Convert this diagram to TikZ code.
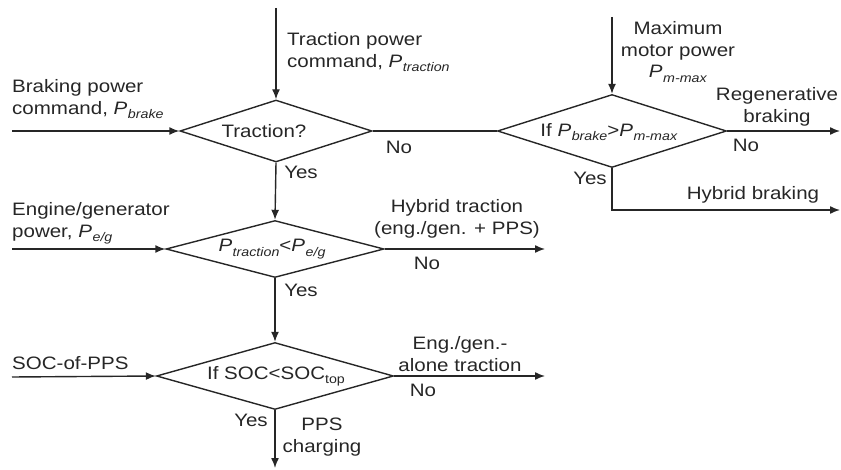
\documentclass[tikz,border=0pt]{standalone}
\usepackage{fontspec}
\setmainfont{Liberation Sans}[FakeStretch=1.14]
\usetikzlibrary{shapes.geometric,arrows.meta}
\newcommand{\Psub}[1]{\textit{P}\kern0.03em\raisebox{-0.45ex}{\fontsize{12.5}{12.5}\selectfont\textit{#1}}}
\newcommand{\Tsub}[1]{\raisebox{-0.45ex}{\fontsize{12.5}{12.5}\selectfont #1}}
\begin{document}
\begin{tikzpicture}[x=1pt,y=-1pt,
  font=\fontsize{18}{22}\selectfont,
  dia/.style={draw=black!85, diamond, inner sep=0pt, line width=1.4pt},
  arr/.style={draw=black!85, line width=1.4pt, -{Latex[length=10pt,width=8pt]}},
  ln/.style={draw=black!85, line width=1.4pt},
  txt/.style={inner sep=0pt, text=black!85, align=center},
  ltxt/.style={inner sep=0pt, text=black!85, align=left, anchor=west}]
\useasboundingbox (0,0) rectangle (841,470);

% diamonds
\node[dia, minimum width=192pt, minimum height=62pt] (d1) at (276,131) {};
\node[dia, minimum width=229pt, minimum height=73pt] (d2) at (612,131) {};
\node[dia, minimum width=218pt, minimum height=57pt] (d3) at (275,249) {};
\node[dia, minimum width=237pt, minimum height=67pt] (d4) at (275,376) {};

\node[txt] (t1) at (264,131) {Traction?};
\node[txt] (t2) at (609,132) {If \Psub{brake}>\Psub{m-max}};
\node[txt] (t3) at (272,249) {\Psub{traction}<\Psub{e/g}};
\node[txt] (t4) at (276,376) {If SOC<SOC\Tsub{top}};

% free ends
\coordinate (in1) at (276,8);
\coordinate (in2) at (612,17);
\coordinate (inb) at (12,131);
\coordinate (ine) at (12,249);
\coordinate (ins) at (12,377);
\coordinate (oregen) at (840,131);
\coordinate (bend) at (612,210);
\coordinate (ohb) at (840,210);
\coordinate (oht) at (545,249);
\coordinate (oea) at (545,376);
\coordinate (opc) at (275,468);

% connectors
\draw[arr] (in1) -- (d1.north);
\draw[arr] (inb) -- (d1.west);
\draw[ln] (d1.east) -- (d2.west);
\draw[arr] (in2) -- (d2.north);
\draw[arr] (d2.east) -- (oregen);
\draw[arr] (d2.south) -- (bend) -- (ohb);
\draw[arr] (d1.south) -- (d3.north);
\draw[arr] (ine) -- (d3.west);
\draw[arr] (d3.east) -- (oht);
\draw[arr] (d3.south) -- (d4.north);
\draw[arr] (ins) -- (d4.west);
\draw[arr] (d4.east) -- (oea);
\draw[arr] (d4.south) -- (opc);

% labels
\node[ltxt] (lt) at (287,52) {Traction power\\command, \Psub{traction}};
\node[ltxt] (lb) at (12,99) {Braking power\\command, \Psub{brake}};
\node[txt] (no1) at (399,147) {No};
\node[txt] (yes1) at (301,172) {Yes};
\node[txt] (lm) at (678,52) {Maximum\\motor power\\[-1pt]\Psub{m-max}};
\node[txt] (lr) at (777,107) {Regenerative\\braking};
\node[txt] (no2) at (746,145) {No};
\node[txt] (yes2) at (590,178) {Yes};
\node[txt] (lhb) at (753,195) {Hybrid braking};
\node[ltxt] (le) at (12,223) {Engine/generator\\power, \Psub{e/g}};
\node[txt] (lht) at (457,219) {Hybrid traction\\(eng./gen. + PPS)};
\node[txt] (no3) at (427,263) {No};
\node[txt] (yes3) at (301,290) {Yes};
\node[ltxt] (ls) at (12,363) {SOC-of-PPS};
\node[txt] (lea) at (460,354) {Eng./gen.-\\alone traction};
\node[txt] (no4) at (423,390) {No};
\node[txt] (yes4) at (251,420) {Yes};
\node[txt] (lpc) at (322,437) {PPS\\charging};
\end{tikzpicture}
\end{document}
